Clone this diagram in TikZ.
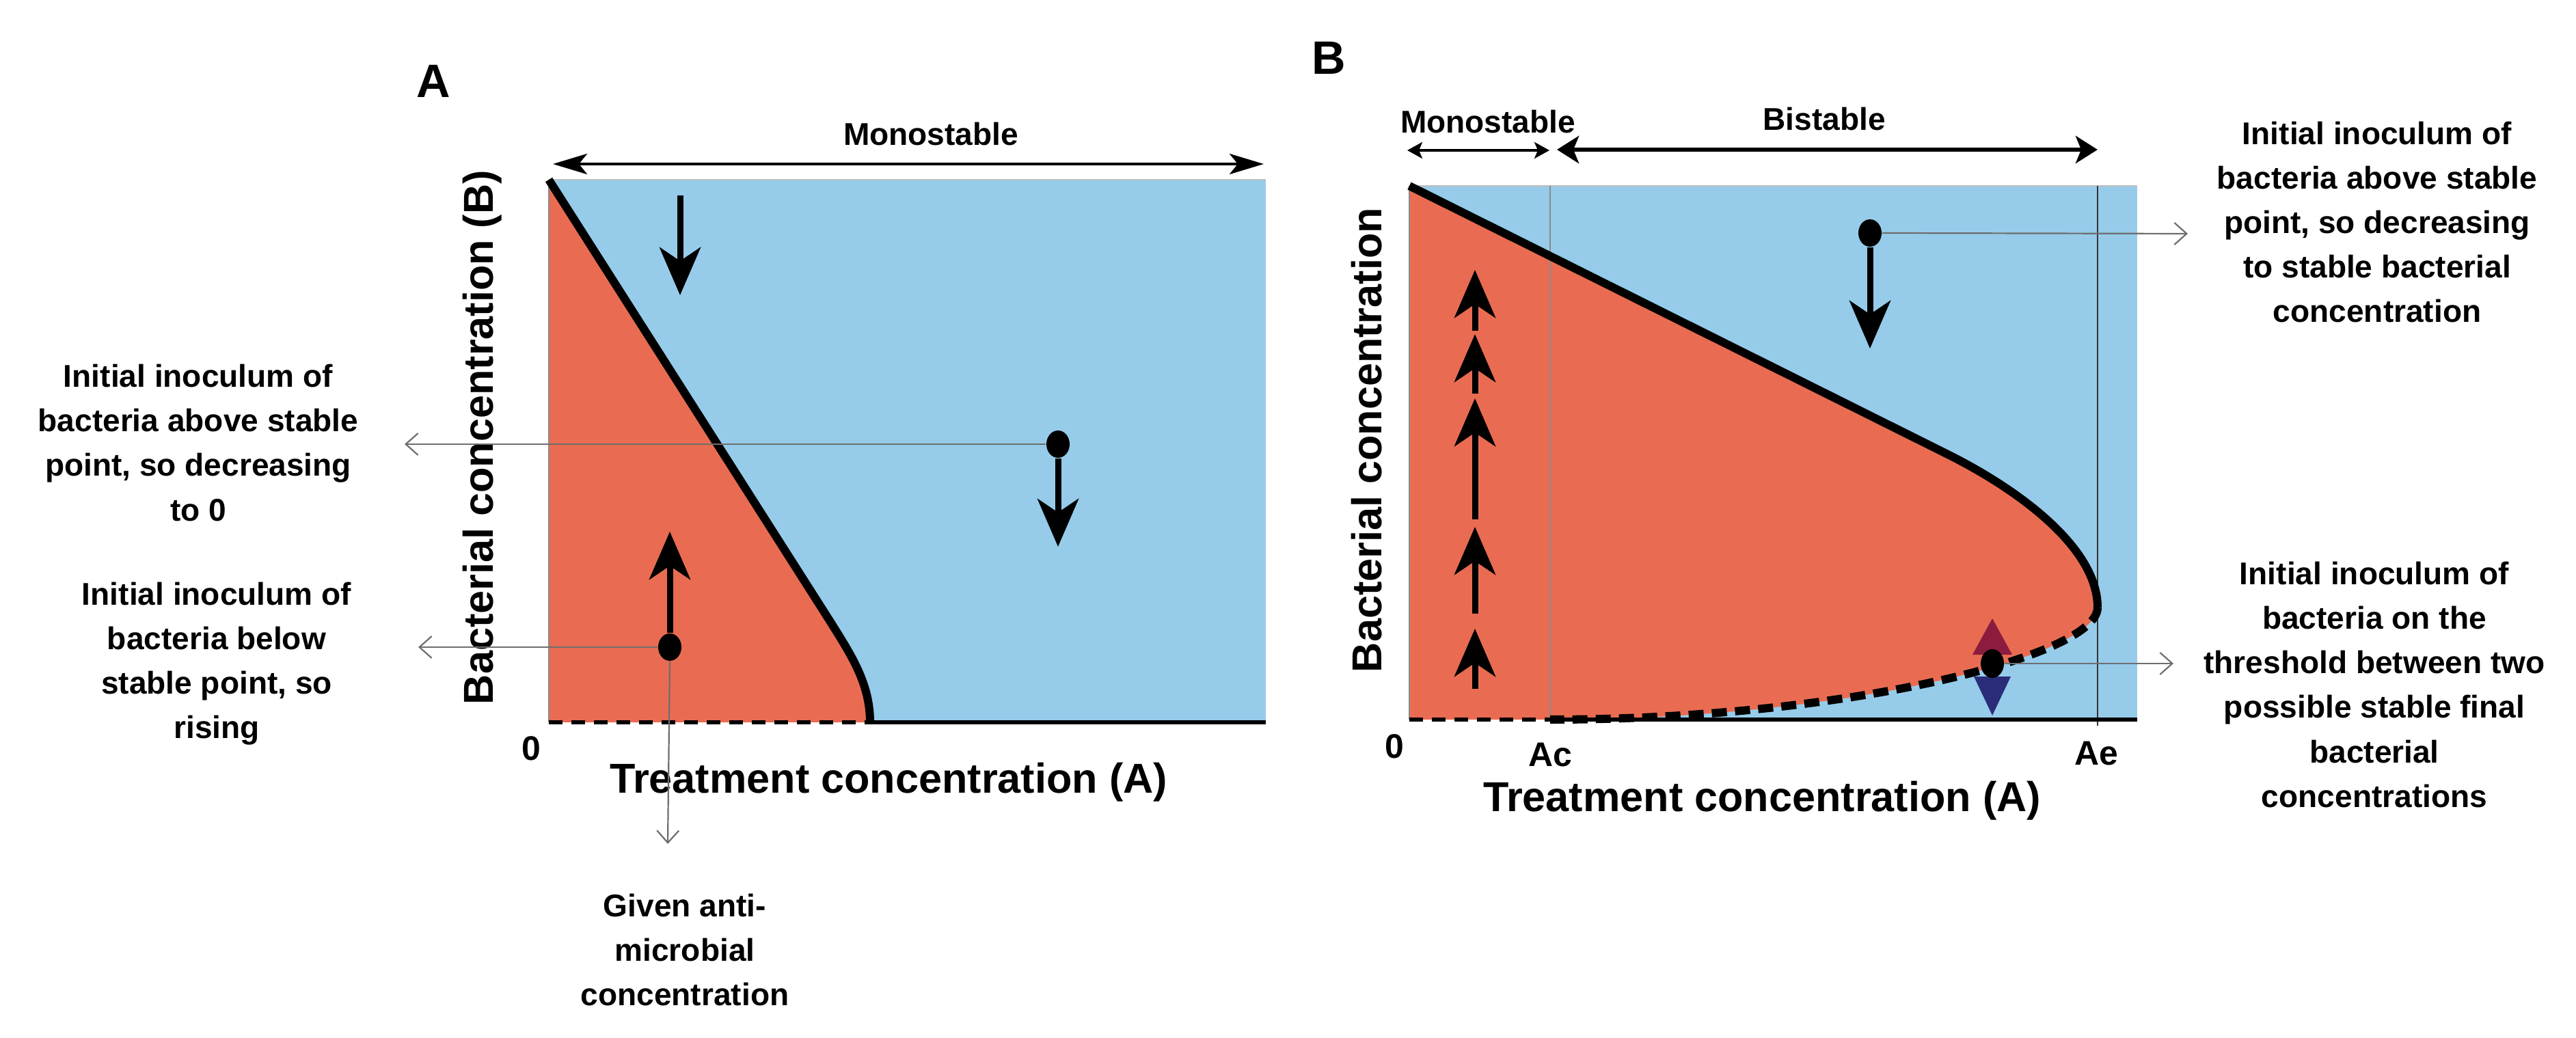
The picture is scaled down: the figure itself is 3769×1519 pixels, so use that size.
\documentclass[tikz,border=0pt]{standalone}
\usepackage{fontspec}
\setmainfont{Liberation Sans}
\usetikzlibrary{arrows.meta,shapes.geometric}
\definecolor{bluebg}{HTML}{96CCEA}
\definecolor{redbg}{HTML}{E96C52}
\definecolor{upred}{HTML}{8C1C3E}
\definecolor{downblue}{HTML}{2B2D7A}
\definecolor{ptrgray}{HTML}{6E6E6E}
\definecolor{edgegray}{HTML}{8A8A8A}
\begin{document}
\begin{tikzpicture}[x=0.01cm,y=-0.01cm,
  txt/.style={font=\bfseries\fontsize{13.1}{18.5}\selectfont,align=center,inner sep=0pt},
  axislbl/.style={font=\bfseries\fontsize{17.4}{20}\selectfont,inner sep=0pt},
  ticklbl/.style={font=\bfseries\fontsize{14.2}{16}\selectfont,inner sep=0pt},
  panel/.style={font=\bfseries\fontsize{19.5}{22}\selectfont,inner sep=0pt},
  regime/.style={font=\bfseries\fontsize{13.1}{15}\selectfont,inner sep=0pt},
  boundary/.style={line width=0.12cm,line join=round},
  thres/.style={line width=0.12cm,dash pattern=on 0.22cm off 0.12cm},
  axisline/.style={line width=0.06cm},
  axisdash/.style={line width=0.06cm,dash pattern=on 0.2cm off 0.13cm},
  guide/.style={edgegray,line width=0.02cm},
  flow/.style={line width=0.09cm,-{Stealth[length=0.7cm,width=0.6cm,inset=0.2cm]}},
  rangearrow/.style={line width=0.045cm,{Stealth[length=0.5cm,width=0.3cm,inset=0.12cm]}-{Stealth[length=0.5cm,width=0.3cm,inset=0.12cm]}},
  smallrange/.style={line width=0.035cm,{Stealth[length=0.22cm,width=0.24cm,inset=0.05cm]}-{Stealth[length=0.22cm,width=0.24cm,inset=0.05cm]}},
  bigrange/.style={line width=0.06cm,{Stealth[length=0.32cm,width=0.4cm,inset=0.08cm]}-{Stealth[length=0.32cm,width=0.4cm,inset=0.08cm]}},
  pointer/.style={ptrgray,line width=0.022cm,-{Straight Barb[length=0.18cm,width=0.32cm]}},
  stdot/.style={ellipse,fill=black,minimum width=0.34cm,minimum height=0.4cm,inner sep=0pt},
]
\useasboundingbox[fill=white] (0,0) rectangle (3769,1519);

% ---------------- Panel A ----------------
\fill[bluebg] (803,263) rectangle (1852,1057);
\fill[redbg] (803,263) -- (1215,910) .. controls (1245,958) and (1273,1000) .. (1273,1057) -- (803,1057) -- cycle;
\draw[guide] (803,1057) -- (803,263);
\draw[guide,black!25] (803,263) -- (1852,263);
\draw[axisdash] (803,1057) -- (1273,1057);
\draw[axisline] (1273,1057) -- (1852,1057);
\draw[boundary] (803,263) -- (1215,910) .. controls (1245,958) and (1273,1000) .. (1273,1057);

\node[panel] (labA) at (634,119) {A};
\node[regime] (monoA) at (1362,196) {Monostable};
\coordinate (mAl) at (809,240);
\coordinate (mAr) at (1849,240);
\draw[rangearrow] (mAl) -- (mAr);

\coordinate (dA0) at (995,286);
\coordinate (dA0e) at (995,432);
\draw[flow] (dA0) -- (dA0e);
\node[stdot] (A1) at (1548,650) {};
\coordinate (fA1) at (1548,800);
\draw[flow] (A1.south) -- (fA1);
\node[stdot] (A2) at (980,947) {};
\coordinate (fA2) at (980,778);
\draw[flow] (A2.north) -- (fA2);

\node[axislbl,rotate=90] (yA) at (706,640) {Bacterial concentration (B)};
\node[axislbl] (xA) at (1300,1145) {Treatment concentration (A)};
\node[ticklbl] (zeroA) at (777,1095) {0};

\node[txt] (tA1) at (290,648) {Initial inoculum of\\bacteria above stable\\point, so decreasing\\to 0};
\node[txt] (tA2) at (317,971) {Initial inoculum of\\bacteria below\\stable point, so\\rising};
\node[txt] (tA3) at (1002,1390) {Given anti-\\microbial\\concentration};

\coordinate (pA1) at (592,650);
\coordinate (pA2) at (612,947);
\coordinate (pA3) at (977,1235);
\draw[pointer] (A1.west) -- (pA1);
\draw[pointer] (A2.west) -- (pA2);
\draw[pointer] (A2.south) -- (pA3);

% ---------------- Panel B ----------------
\fill[bluebg] (2062,272) rectangle (3127,1053);
\fill[redbg] (2062,272) -- (2850,665) .. controls (2950,715) and (3069,800) .. (3069,889)
  .. controls (3069,960) and (2700,1053) .. (2268,1053) -- (2062,1053) -- cycle;
\draw[guide] (2062,1053) -- (2062,272);
\draw[guide,black!25] (2062,272) -- (3127,272);
\draw[guide] (2268,272) -- (2268,1053);
\draw[guide,black!80] (3069,272) -- (3069,1062);
\draw[axisdash] (2062,1053) -- (2268,1053);
\draw[axisline] (2268,1053) -- (3127,1053);
\draw[boundary] (2062,272) -- (2850,665) .. controls (2950,715) and (3069,800) .. (3069,889);
\draw[thres] (3069,889) .. controls (3069,960) and (2700,1053) .. (2268,1053);

\node[panel] (labB) at (1944,85) {B};
\node[regime] (monoB) at (2177,178) {Monostable};
\node[regime] (bist) at (2669,174) {Bistable};
\coordinate (mBl) at (2059,220);
\coordinate (mBr) at (2267,220);
\draw[smallrange] (mBl) -- (mBr);
\coordinate (bBl) at (2278,219);
\coordinate (bBr) at (3069,219);
\draw[bigrange] (bBl) -- (bBr);

% rising arrows in the red region
\coordinate (u0) at (2158,1008);
\coordinate (u1) at (2158,920);
\coordinate (u1s) at (2158,898);
\coordinate (u2) at (2158,771);
\coordinate (u2s) at (2158,760);
\coordinate (u3) at (2158,583);
\coordinate (u3s) at (2158,576);
\coordinate (u4) at (2158,489);
\coordinate (u4s) at (2158,484);
\coordinate (u5) at (2158,395);
\draw[flow] (u0) -- (u1);
\draw[flow] (u1s) -- (u2);
\draw[flow] (u2s) -- (u3);
\draw[flow] (u3s) -- (u4);
\draw[flow] (u4s) -- (u5);

\node[stdot] (B1) at (2736,341) {};
\coordinate (fB1) at (2736,510);
\draw[flow] (B1.south) -- (fB1);

\fill[upred] (2915,905) -- (2944,958) -- (2886,958) -- cycle;
\fill[downblue] (2888,990) -- (2942,990) -- (2915,1047) -- cycle;
\node[stdot,minimum width=0.34cm,minimum height=0.42cm] (B2) at (2915,971) {};

\node[axislbl,rotate=90] (yB) at (2000,644) {Bacterial concentration};
\node[axislbl] (xB) at (2578,1172) {Treatment concentration (A)};
\node[ticklbl] (zeroB) at (2040,1092) {0};
\node[ticklbl] (ac) at (2268,1105) {Ac};
\node[ticklbl] (ae) at (3067,1103) {Ae};

\node[txt] (tB1) at (3478,325) {Initial inoculum of\\bacteria above stable\\point, so decreasing\\to stable bacterial\\concentration};
\node[txt] (tB2) at (3474,1002) {Initial inoculum of\\bacteria on the\\threshold between two\\possible stable final\\bacterial\\concentrations};

\coordinate (pB1) at (3201,342);
\coordinate (pB2) at (3180,971);
\draw[pointer] (B1.east) -- (pB1);
\draw[pointer] (B2.east) -- (pB2);
\end{tikzpicture}
\end{document}
